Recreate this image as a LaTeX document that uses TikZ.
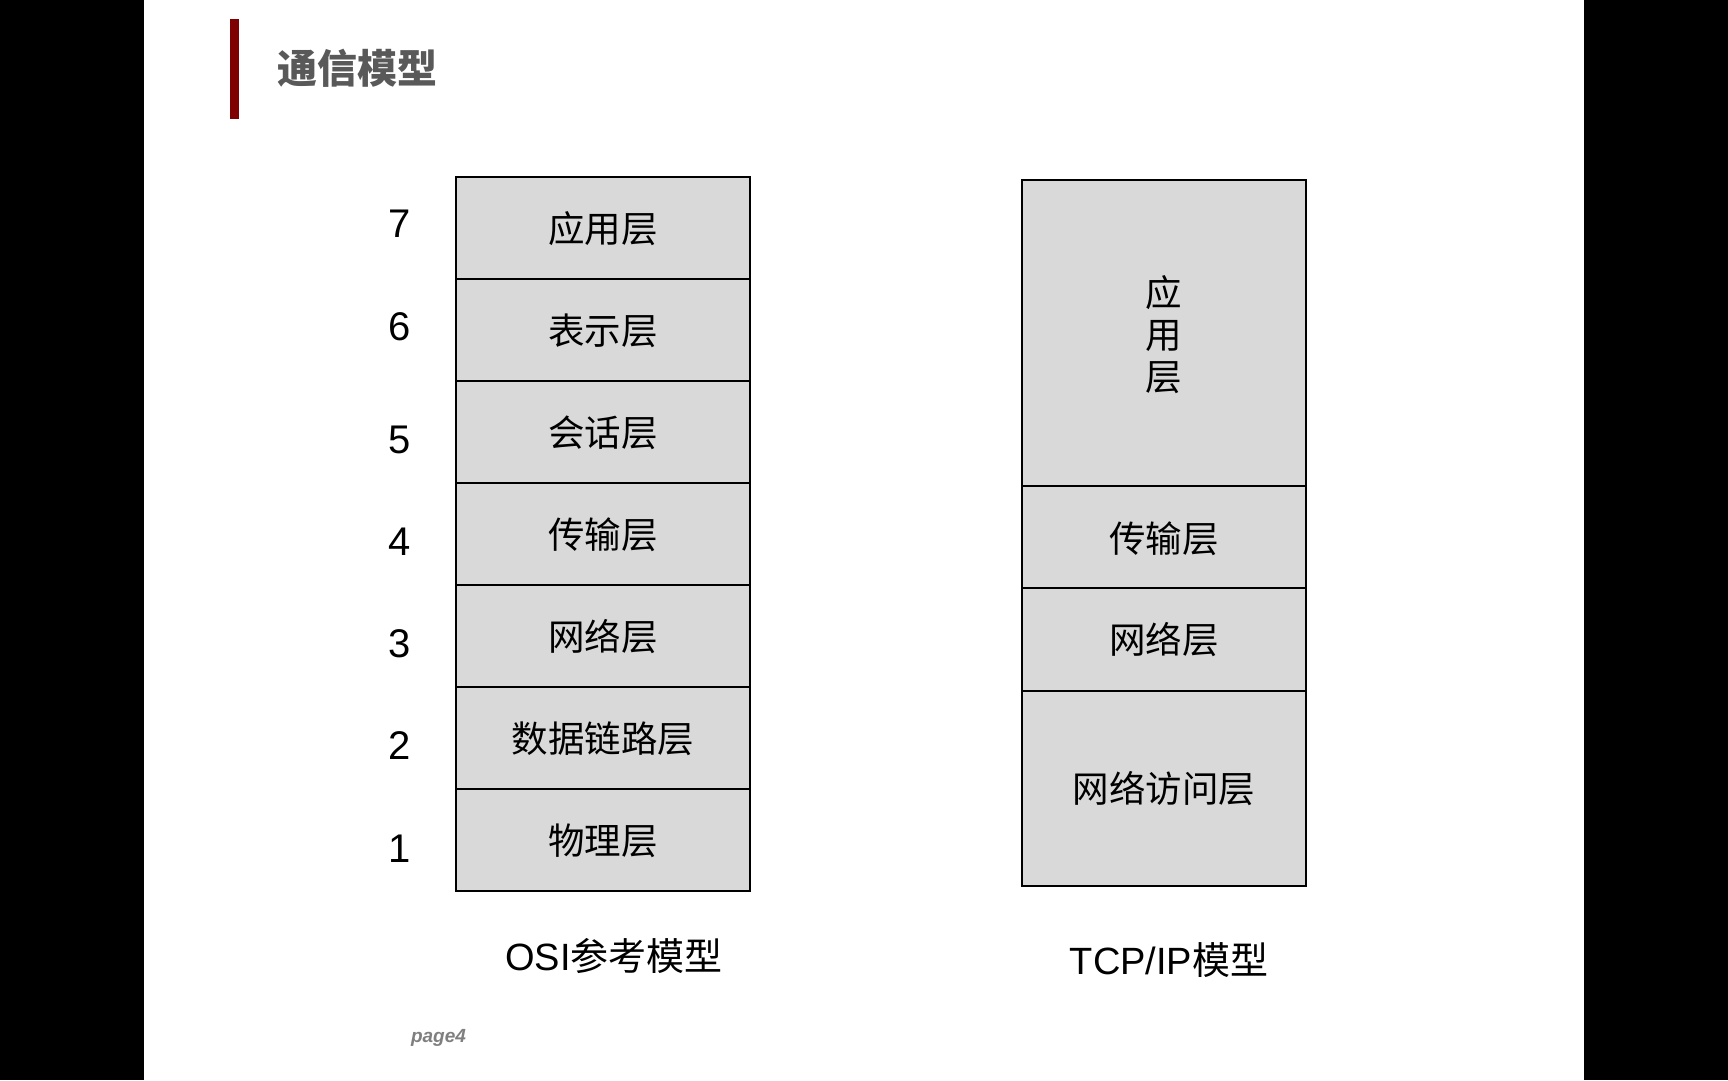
\documentclass[tikz,border=0pt]{standalone}
\usepackage{fontspec}
\setmainfont{Liberation Sans}
\newfontfamily\cjk{Noto Sans CJK SC}
\definecolor{layerfill}{HTML}{D9D9D9}
\definecolor{titlegray}{HTML}{595959}
\definecolor{darkred}{HTML}{7F0000}
\definecolor{pagegray}{HTML}{7F7F7F}
\tikzset{
  layer/.style={draw=black, line width=2pt, fill=layerfill},
  lbl/.style={font=\cjk\fontsize{36.5}{42}\selectfont, inner sep=0pt, align=center},
  num/.style={font=\fontsize{40}{44}\selectfont, inner sep=0pt},
  captext/.style={font=\fontsize{38}{42}\selectfont, inner sep=0pt}
}
\begin{document}
\begin{tikzpicture}[x=1pt,y=-1pt]
\useasboundingbox (0,0) rectangle (1728,1080);
\fill[black] (0,0) rectangle (1728,1080);
\fill[white] (144,0) rectangle (1584,1080);
% title
\fill[darkred] (230,19) rectangle (239,119);
\node[anchor=west, inner sep=0pt, text=titlegray, font=\cjk\bfseries\fontsize{40}{44}\selectfont] (title) at (277,68) {通信模型};
% OSI stack
\foreach \i/\t/\b/\txt in {7/176.5/278.5/应用层, 6/278.5/380.5/表示层, 5/380.5/482.5/会话层, 4/482.5/584.5/传输层, 3/584.5/686.5/网络层, 2/686.5/788.5/数据链路层, 1/788.5/890.5/物理层}{
  \draw[layer] (456,\t) rectangle (750,\b);
  \node[lbl] (osi\i) at (603,{(\t+\b)/2+1}) {\txt};
}
\foreach \i/\y in {7/224, 6/327, 5/440, 4/542, 3/644, 2/746, 1/849}{
  \node[num] (n\i) at (399.5,\y) {\i};
}
% TCP/IP stack
\draw[layer] (1022,180) rectangle (1306,485.7);
\draw[layer] (1022,485.7) rectangle (1306,588.3);
\draw[layer] (1022,588.3) rectangle (1306,690.7);
\draw[layer] (1022,690.7) rectangle (1306,885.7);
\node[lbl] (tapp) at (1164,335) {应\\用\\层};
\node[lbl] (ttrans) at (1164,539) {传输层};
\node[lbl] (tnet) at (1164,640) {网络层};
\node[lbl] (tacc) at (1164,789) {网络访问层};
% captions
\node[captext] (osicap) at (614,956) {OSI{\cjk 参考模型}};
\node[captext] (tcpcap) at (1169,960) {TCP/IP{\cjk 模型}};
\node[inner sep=0pt, text=pagegray, font=\bfseries\itshape\fontsize{19}{22}\selectfont] (page) at (438.5,1038) {page4};
\end{tikzpicture}
\end{document}
